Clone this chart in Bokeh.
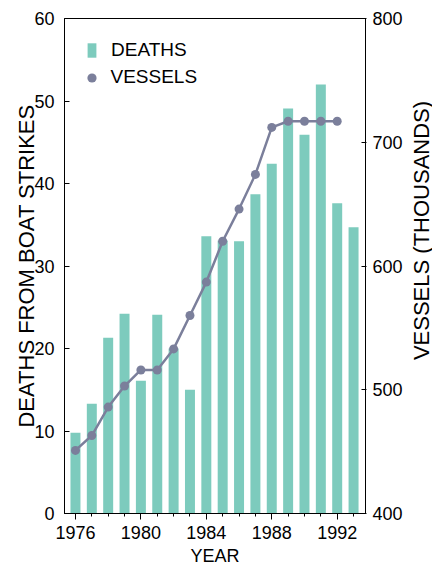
from math import pi
from bokeh.plotting import figure
from bokeh.layouts import row, column
from bokeh.models import Range1d, LinearAxis, FixedTicker, Legend, LegendItem, Label
from bokeh.embed import file_html
from bokeh.resources import INLINE

# ---- data ----
years = list(range(1976, 1994))
deaths = [9.8, 13.3, 21.3, 24.2, 16.1, 24.1, 20.0, 15.0, 33.6,
          33.1, 33.0, 38.7, 42.4, 49.1, 45.9, 52.0, 37.6, 34.7]
vessel_years = list(range(1976, 1993))
vessels = [451, 463, 486, 503, 516, 516, 533, 560, 587,
           620, 646, 674, 712, 717, 717, 717, 717]
left_ticks = [0, 10, 20, 30, 40, 50, 60]
right_ticks = [400, 500, 600, 700, 800]
year_ticks = [1976, 1980, 1984, 1988, 1992]
minor_year_ticks = list(range(1975, 1995))

FONT = "Liberation Sans"
BAR = "#7dcbbd"
LINE = "#7b7f9b"

# ---- main chart ----
p = figure(width=406, height=545, output_backend="svg", toolbar_location=None,
           x_range=Range1d(1975.33, 1993.73), y_range=Range1d(0, 60),
           min_border_left=64, min_border_right=41, min_border_top=18,
           min_border_bottom=32)
p.extra_y_ranges = {"v": Range1d(400, 800)}
p.xgrid.visible = False
p.ygrid.visible = False
p.outline_line_color = "black"
p.outline_line_width = 1
p.outline_line_alpha = 1
p.background_fill_color = "white"
p.border_fill_color = "white"

bars = p.vbar(x=years, top=deaths, width=0.61, fill_color=BAR, line_color=None)
p.line(vessel_years, vessels, y_range_name="v", line_color=LINE, line_width=2.5)
pts = p.scatter(vessel_years, vessels, y_range_name="v", size=9,
                fill_color=LINE, line_color=None)

ra = LinearAxis(y_range_name="v")
p.add_layout(ra, "right")

xa = p.xaxis[0]
xa.ticker = FixedTicker(ticks=year_ticks, minor_ticks=minor_year_ticks)
xa.major_tick_in = 0
xa.major_tick_out = 6
xa.minor_tick_in = 0
xa.minor_tick_out = 3
xa.major_label_standoff = 6

ya = p.yaxis[0]
ya.ticker = FixedTicker(ticks=left_ticks)
ya.major_tick_in = 5
ya.major_tick_out = 0
ya.minor_tick_line_color = None
ya.major_label_standoff = 10
ya.axis_label = "DEATHS FROM BOAT STRIKES"
ya.axis_label_standoff = -8
ya.axis_label_text_font_size = "22px"

ra.ticker = FixedTicker(ticks=right_ticks)
ra.major_tick_in = 4
ra.major_tick_out = 1
ra.minor_tick_line_color = None
ra.major_label_standoff = 6

for ax in (xa, ya, ra):
    ax.axis_line_color = "black"
    ax.axis_line_width = 1
    ax.major_tick_line_color = "black"
    ax.major_label_text_font = FONT
    ax.major_label_text_font_size = "18px"
    ax.major_label_text_color = "black"
    ax.axis_label_text_font = FONT
    ax.axis_label_text_font_style = "normal"
    ax.axis_label_text_color = "black"
ya.major_label_orientation = "horizontal"
ra.major_label_orientation = "horizontal"

leg1 = Legend(items=[LegendItem(label="DEATHS", renderers=[bars])],
              location=(22, 452), margin=0, padding=0,
              glyph_width=11, glyph_height=18, label_standoff=14,
              label_text_font=FONT, label_text_font_size="19px",
              label_text_color="black", border_line_color=None,
              background_fill_alpha=0)
leg2 = Legend(items=[LegendItem(label="VESSELS", renderers=[pts])],
              location=(15.5, 424.5), margin=0, padding=0,
              glyph_width=23, glyph_height=23, label_standoff=8,
              label_text_font=FONT, label_text_font_size="19px",
              label_text_color="black", border_line_color=None,
              background_fill_alpha=0)
p.add_layout(leg1)
p.add_layout(leg2)


def text_strip(w, h):
    f = figure(width=w, height=h, output_backend="svg", toolbar_location=None,
               x_range=Range1d(0, w), y_range=Range1d(0, h),
               x_axis_location=None, y_axis_location=None, min_border=0)
    f.xgrid.visible = False
    f.ygrid.visible = False
    f.outline_line_color = None
    f.background_fill_color = "white"
    f.border_fill_color = "white"
    return f


# right-hand axis title (reads bottom to top)
rfig = text_strip(26, 545)
rfig.add_layout(Label(x=14.5, y=283, x_units="screen", y_units="screen",
                      text="VESSELS (THOUSANDS)", angle=pi / 2,
                      text_align="center", text_baseline="middle",
                      text_font=FONT, text_font_size="22px", text_color="black"))

# x-axis title
bfig = text_strip(432, 20)
bfig.add_layout(Label(x=214.5, y=10, x_units="screen", y_units="screen",
                      text="YEAR", text_align="center", text_baseline="middle",
                      text_font=FONT, text_font_size="18px", text_color="black"))

layout = column(row(p, rfig), bfig)
open("out.html", "w").write(file_html(layout, INLINE))
